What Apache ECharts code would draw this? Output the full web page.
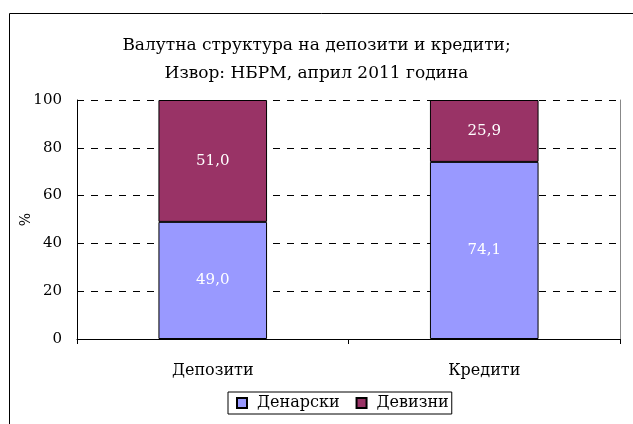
<!DOCTYPE html>
<html>
<head>
<meta charset="utf-8">
<script src="https://cdn.jsdelivr.net/npm/echarts@6/dist/echarts.min.js"></script>
<style>
  html, body { margin: 0; padding: 0; background: #fff; }
  #chart { width: 633px; height: 424px; }
</style>
</head>
<body>
<div id="chart"></div>
<script>
// data
var categories = ['Депозити', 'Кредити']
var denarski = [49.0, 74.1]
var devizni = [51.0, 25.9]
var seriesNames = ['Денарски', 'Девизни']
var yTicks = [0, 20, 40, 60, 80, 100]

var font = 'DejaVu Serif'
var chart = echarts.init(document.getElementById('chart'))

function fmt(p) {
  return p.value.toFixed(1).replace('.', ',')
}

chart.setOption({
  animation: false,
  textStyle: { fontFamily: font },
  title: {
    text: 'Валутна структура на депозити и кредити;\nИзвор: НБРМ, април 2011 година',
    left: 'center',
    top: 27,
    textStyle: { fontFamily: font, fontWeight: 'normal', fontSize: 17, color: '#000', lineHeight: 28 }
  },
  graphic: [{
    type: 'rect',
    shape: { x: 9.5, y: 13.5, width: 700, height: 500 },
    style: { fill: 'none', stroke: '#000', lineWidth: 1 },
    silent: true
  }],
  legend: {
    data: seriesNames,
    top: 392,
    left: 228,
    itemWidth: 10,
    itemHeight: 10,
    itemGap: 16,
    icon: 'rect',
    padding: [3, 3, 3, 8],
    borderColor: '#000',
    borderWidth: 1,
    textStyle: { fontFamily: font, fontSize: 16, color: '#000', padding: [0, 0, 0, 5] }
  },
  grid: { left: 77, right: 13, top: 100, bottom: 85, containLabel: false },
  xAxis: {
    type: 'category',
    data: categories,
    axisLine: { lineStyle: { color: '#000' } },
    axisTick: { show: true, length: 5, lineStyle: { color: '#000' } },
    axisLabel: { fontFamily: font, fontSize: 16, color: '#000', margin: 24 }
  },
  yAxis: [{
    type: 'value',
    min: yTicks[0],
    max: yTicks[yTicks.length - 1],
    interval: 20,
    name: '%',
    nameLocation: 'middle',
    nameGap: 44,
    nameRotate: 90,
    nameMoveOverlap: false,
    nameTextStyle: { fontFamily: font, fontSize: 14, color: '#000' },
    axisLine: { show: true, lineStyle: { color: '#000' } },
    axisTick: { show: false },
    axisLabel: { fontFamily: font, fontSize: 15, color: '#000', margin: 15 },
    splitLine: { lineStyle: { color: '#000', type: [7, 7] } }
  }, {
    type: 'value',
    position: 'right',
    min: 0,
    max: 100,
    axisLine: { show: true, lineStyle: { color: '#888' } },
    axisTick: { show: false },
    axisLabel: { show: false },
    splitLine: { show: false }
  }],
  series: [{
    name: seriesNames[0],
    type: 'bar',
    stack: 'total',
    barWidth: '40%',
    data: denarski,
    itemStyle: { color: '#9999FF', borderColor: '#000', borderWidth: 1 },
    label: { show: true, position: 'inside', color: '#fff', fontFamily: font, fontSize: 15, formatter: fmt }
  }, {
    name: seriesNames[1],
    type: 'bar',
    stack: 'total',
    barWidth: '40%',
    data: devizni,
    itemStyle: { color: '#993366', borderColor: '#000', borderWidth: 1 },
    label: { show: true, position: 'inside', color: '#fff', fontFamily: font, fontSize: 15, formatter: fmt }
  }]
})
</script>
</body>
</html>
